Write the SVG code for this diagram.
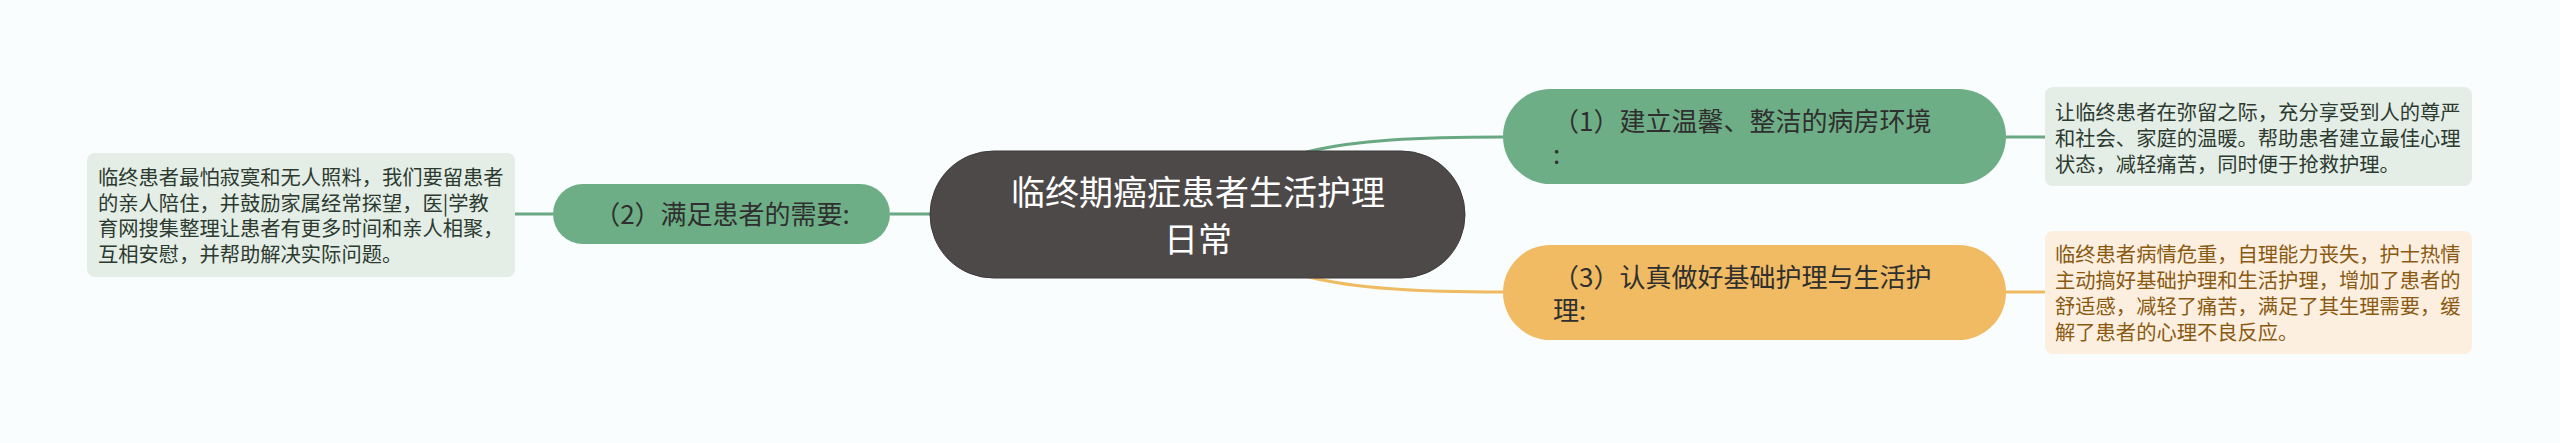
<svg xmlns="http://www.w3.org/2000/svg" width="2560" height="443" viewBox="0 0 2560 443">
<style>
text{font-family:"Noto Sans CJK SC","Noto Sans",sans-serif;}
.conn{fill:none;stroke-width:3;}
.g{stroke:#6aa883;}
.o{stroke:#efbb62;}
.root{fill:#4e4949;stroke:#3e3a3a;stroke-width:1;}
.rt{fill:#ffffff;font-size:34px;text-anchor:middle;}
.gn{fill:#6eae86;}
.on{fill:#f0bb62;}
.nt{fill:#2f2f2f;font-size:26px;}
.gb{fill:#e4eee6;}
.ob{fill:#fcefe0;}
.gbt{fill:#2c3a30;font-size:20.3px;}
.obt{fill:#8a5a12;font-size:20.3px;}
</style>
<rect width="2560" height="443" fill="#f9fdfd"/>
<g id="connectors">
<path class="conn g" d="M1197 214 C1260 150 1330 137 1503 137"/>
<path class="conn o" d="M1197 214 C1260 278 1330 292 1503 292"/>
<path class="conn g" d="M890 214 L1197 214"/>
<path class="conn g" d="M515 214 L553 214"/>
<path class="conn g" d="M2006 137 L2045 137"/>
<path class="conn o" d="M2006 292 L2045 292"/>
</g>
<g id="root">
<rect class="root" x="930" y="151" width="535" height="127" rx="63.5"/>
<text class="rt"><tspan x="1198" y="205">临终期癌症患者生活护理</tspan><tspan x="1198" y="252">日常</tspan></text>
</g>
<g id="node1">
<rect class="gn" x="1503" y="89" width="503" height="95" rx="47.5"/>
<text class="nt"><tspan x="1553" y="131">（1）建立温馨、整洁的病房环境</tspan><tspan x="1553" y="164">:</tspan></text>
</g>
<g id="node2">
<rect class="gn" x="553" y="184" width="337" height="60" rx="30"/>
<text class="nt" x="722" y="224" text-anchor="middle">（2）满足患者的需要:</text>
</g>
<g id="node3">
<rect class="on" x="1503" y="245" width="503" height="95" rx="47.5"/>
<text class="nt"><tspan x="1553" y="287">（3）认真做好基础护理与生活护</tspan><tspan x="1553" y="320">理:</tspan></text>
</g>
<g id="note1">
<rect class="gb" x="2045" y="87" width="427" height="99" rx="8"/>
<text class="gbt"><tspan x="2055" y="120">让临终患者在弥留之际，充分享受到人的尊严</tspan><tspan x="2055" y="146">和社会、家庭的温暖。帮助患者建立最佳心理</tspan><tspan x="2055" y="172">状态，减轻痛苦，同时便于抢救护理。</tspan></text>
</g>
<g id="note2">
<rect class="gb" x="87" y="153" width="428" height="124" rx="8"/>
<text class="gbt"><tspan x="98" y="185">临终患者最怕寂寞和无人照料，我们要留患者</tspan><tspan x="98" y="211">的亲人陪住，并鼓励家属经常探望，医|学教</tspan><tspan x="98" y="236">育网搜集整理让患者有更多时间和亲人相聚，</tspan><tspan x="98" y="262">互相安慰，并帮助解决实际问题。</tspan></text>
</g>
<g id="note3">
<rect class="ob" x="2045" y="231" width="427" height="123" rx="8"/>
<text class="obt"><tspan x="2055" y="262">临终患者病情危重，自理能力丧失，护士热情</tspan><tspan x="2055" y="288">主动搞好基础护理和生活护理，增加了患者的</tspan><tspan x="2055" y="314">舒适感，减轻了痛苦，满足了其生理需要，缓</tspan><tspan x="2055" y="340">解了患者的心理不良反应。</tspan></text>
</g>
</svg>
